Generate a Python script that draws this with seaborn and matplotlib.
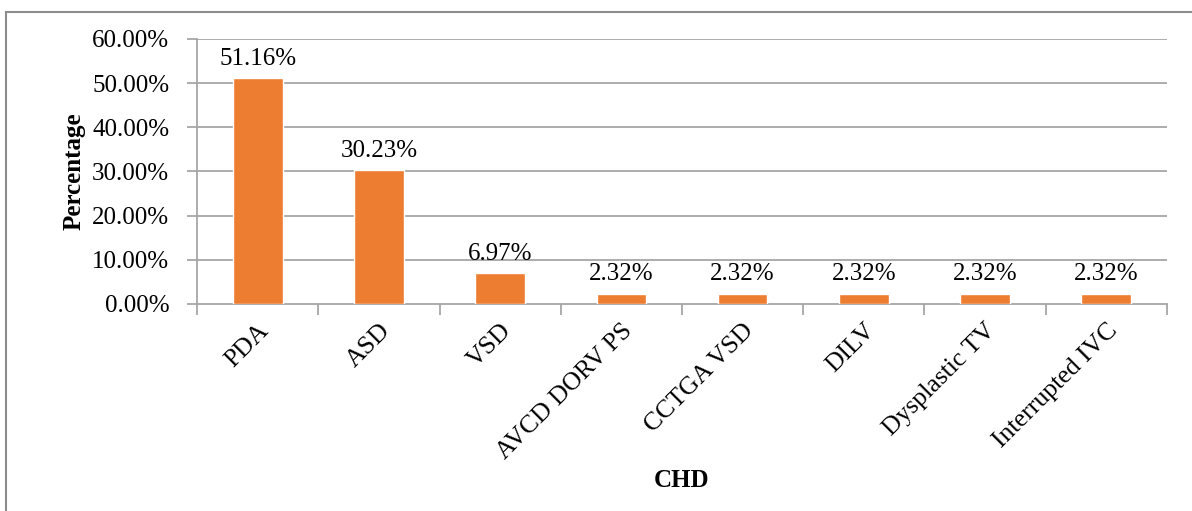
import matplotlib
matplotlib.use("Agg")
import matplotlib.pyplot as plt
import seaborn as sns
import pandas as pd
from matplotlib.patches import Rectangle

categories = ["PDA", "ASD", "VSD", "AVCD DORV PS", "CCTGA VSD", "DILV",
              "Dysplastic TV", "Interrupted IVC"]
percentages = [51.16, 30.23, 6.97, 2.32, 2.32, 2.32, 2.32, 2.32]
y_ticks = [0, 10, 20, 30, 40, 50, 60]

sns.set_theme(style="white")
plt.rcParams["font.family"] = ["Liberation Serif", "DejaVu Serif"]
plt.rcParams["text.color"] = "black"
plt.rcParams["axes.labelcolor"] = "black"
plt.rcParams["xtick.color"] = "black"
plt.rcParams["ytick.color"] = "black"

FS = 18

df = pd.DataFrame({"CHD": categories, "Percentage": percentages})

fig = plt.figure(figsize=(11.92, 5.11), dpi=100)
ax = fig.add_axes([0.1653, 0.4051, 0.8137, 0.5186])

# Outer frame of the chart area
fig.patches.append(Rectangle((0.005, -0.2), 1.2, 0.2 + 0.9765,
                             transform=fig.transFigure, fill=False,
                             edgecolor="#8c8c8c", linewidth=1.5, zorder=0))

sns.barplot(data=df, x="CHD", y="Percentage", color="#ED7D31",
            saturation=1, width=0.41, ax=ax, zorder=3)

grid_c = "#a6a6a6"
ax.set_ylim(0, 60)
ax.set_xlim(-0.5, len(categories) - 0.5)
ax.set_yticks(y_ticks)
ax.set_yticklabels([f"{v:.2f}%" for v in y_ticks], fontsize=FS)
for v in y_ticks[1:]:
    ax.axhline(v, color=grid_c, linewidth=1.3, zorder=1)

# Category boundary ticks below the axis
ax.set_xticks([i + 0.5 for i in range(-1, len(categories))], minor=True)
ax.set_xticks(range(len(categories)))
ax.set_xticklabels(categories, rotation=45, ha="right",
                   rotation_mode="anchor", fontsize=18.5)
ax.tick_params(axis="x", which="major", length=0, pad=11, labelcolor="black")
ax.tick_params(axis="x", which="minor", length=8, width=1.3,
               color=grid_c, direction="out", bottom=True)
ax.tick_params(axis="y", length=7, width=1.3, color=grid_c,
               direction="out", left=True, pad=13, labelcolor="black")

for side in ["top", "right"]:
    ax.spines[side].set_visible(False)
for side in ["left", "bottom"]:
    ax.spines[side].set_color(grid_c)
    ax.spines[side].set_linewidth(1.3)

for i, v in enumerate(percentages):
    ax.annotate(f"{v:.2f}%", (i, v), xytext=(0, 6), textcoords="offset points",
                ha="center", va="bottom", fontsize=FS, color="black")

ax.set_xlabel("CHD", fontsize=FS, fontweight="bold", labelpad=4)
ax.set_ylabel("Percentage", fontsize=FS, fontweight="bold", labelpad=5)

fig.savefig("out.png", dpi=100, facecolor="white")
